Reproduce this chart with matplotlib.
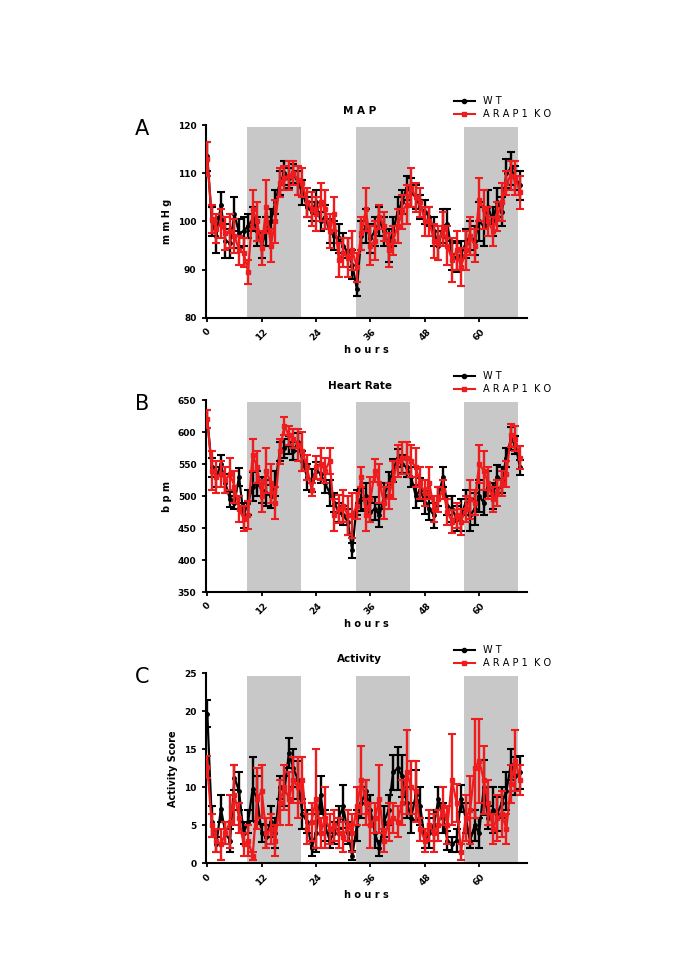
import numpy as np
import matplotlib
matplotlib.use('Agg')
import matplotlib.pyplot as plt
from matplotlib.lines import Line2D

# ------------------------------------------------------------
# data (hourly means +/- SEM)
# ------------------------------------------------------------
hours = list(range(70))

map_wt = [113.5, 100, 97, 103.5, 96, 95.5, 101.5, 97.5, 98, 99,
          100.5, 98, 95, 98, 100, 104, 108, 110, 109, 110,
          108, 106, 103, 102, 104, 100, 101, 98, 97, 96.5,
          95, 93.5, 91, 86, 97, 99, 96.5, 98, 100, 98,
          95, 98, 102, 104, 107, 106, 105, 103, 102, 101,
          98, 95, 99, 99.5, 93, 92.5, 93, 95.5, 97, 96,
          100, 99, 103, 100, 104, 102, 110, 111, 109, 107.5]
map_wt_err = [3, 3, 3.5, 2.5, 3.5, 3, 3.5, 3, 3, 2.5,
              2.5, 3, 2.5, 3, 2.5, 2.5, 2.5, 2.5, 2, 2,
              2.5, 2.5, 2, 2, 2.5, 2, 2.5, 2.5, 3, 3,
              2.5, 3, 3, 1.5, 3, 3.5, 3, 3, 3, 3,
              3.5, 3, 3, 2.5, 2.5, 3, 2.5, 2.5, 2.5, 2,
              3, 3, 3.5, 3, 3, 3, 3, 3, 3, 3,
              4, 4, 3.5, 3, 3, 3, 3, 3.5, 2.5, 3]

map_ko = [113, 100.5, 98.5, 99.5, 97.5, 98, 97, 94, 93.5, 89.5,
          102.5, 100, 94.5, 103, 95, 100, 108, 109, 109.5, 110,
          108.5, 108, 104, 102.5, 101.5, 104, 102.5, 98, 101.5, 92,
          93.5, 92.5, 94, 90.5, 97.5, 102.5, 95, 96, 101, 99,
          94, 96, 99, 102, 103.5, 107, 105, 104, 100, 100,
          96, 95.5, 98.5, 95, 92, 94, 90.5, 94, 97, 95,
          104.5, 102.5, 100, 98, 101, 104, 108, 109.5, 109, 106]
map_ko_err = [3.5, 3, 3, 3, 3.5, 3.5, 3.5, 3, 3, 2.5,
              4, 4, 3.5, 5.5, 3.5, 4.5, 3, 2.5, 3, 2.5,
              3, 3, 3, 3.5, 3.5, 4, 4, 3.5, 3.5, 3.5,
              3, 4, 4, 3, 3.5, 4.5, 4, 4, 2.5, 3,
              3.5, 3, 3.5, 3.5, 4, 4, 3, 3, 3, 3,
              3.5, 3.5, 3.5, 4, 4.5, 4, 4, 4, 4, 3.5,
              4.5, 4, 3, 3, 3, 4, 2.5, 3, 3.5, 3.5]

hr_wt = [620, 545, 530, 550, 520, 495, 490, 530, 470, 490,
         515, 520, 510, 505, 500, 520, 570, 575, 580, 570,
         585, 555, 530, 525, 540, 535, 520, 505, 490, 475,
         470, 460, 415, 490, 495, 500, 475, 480, 470, 500,
         520, 540, 560, 550, 545, 530, 500, 510, 490, 480,
         470, 500, 530, 485, 480, 465, 470, 490, 470, 480,
         500, 490, 520, 500, 530, 525, 560, 590, 580, 545]
hr_wt_err = [14, 15, 15, 14, 15, 12, 10, 14, 20, 20,
             22, 20, 20, 20, 18, 20, 15, 15, 14, 14,
             14, 15, 20, 18, 14, 14, 15, 20, 15, 15,
             15, 20, 12, 20, 18, 20, 15, 18, 18, 20,
             18, 18, 14, 14, 15, 15, 18, 18, 18, 18,
             20, 15, 15, 15, 20, 20, 25, 20, 25, 25,
             25, 20, 20, 20, 18, 20, 15, 18, 14, 12]

hr_ko = [620, 540, 530, 535, 525, 535, 515, 480, 465, 470,
         565, 545, 500, 540, 520, 490, 570, 610, 595, 590,
         580, 570, 545, 510, 545, 550, 540, 555, 470, 480,
         485, 470, 470, 485, 530, 470, 495, 540, 520, 490,
         500, 525, 555, 560, 560, 555, 545, 520, 505, 520,
         480, 495, 510, 475, 460, 470, 460, 480, 495, 490,
         550, 540, 520, 495, 505, 520, 535, 595, 590, 560]
hr_ko_err = [14, 30, 25, 20, 20, 25, 25, 20, 20, 22,
             25, 25, 25, 35, 30, 25, 20, 14, 15, 15,
             25, 30, 20, 10, 18, 25, 20, 20, 25, 22,
             25, 30, 35, 20, 15, 25, 35, 18, 30, 25,
             20, 30, 25, 25, 25, 25, 30, 25, 20, 25,
             20, 20, 15, 20, 18, 20, 20, 20, 30, 20,
             30, 30, 25, 20, 20, 20, 20, 18, 20, 18]

act_wt = [19.7, 5.5, 2.5, 7.2, 4, 3, 11.3, 9.5, 4, 5.5,
          9.8, 8.5, 4, 3.5, 5.5, 4, 10, 9.5, 14.5, 12.5,
          11, 6.5, 5.5, 2, 4, 9, 5, 3, 4, 6,
          7.5, 4, 1, 5, 8, 9.5, 7, 4, 2, 5.5,
          7, 12, 12.5, 11.5, 8, 6, 9, 7.5, 3, 4,
          5, 8.5, 6, 3, 2.5, 3, 8.5, 6, 3, 5,
          4, 10, 6, 7, 6.5, 8, 9.5, 13, 11.5, 12]
act_wt_err = [1.8, 2, 1, 1.8, 1.5, 1.5, 1.7, 2.5, 1.5, 1.5,
              4.2, 3, 1.2, 1.5, 2, 2, 1.5, 2, 2, 2.5,
              2.5, 2, 1.5, 1, 2.5, 2.5, 2, 1, 1.5, 1.5,
              2.8, 1.5, 0.6, 2, 2, 1.5, 2, 2, 1, 2,
              2, 2.3, 2.8, 2.8, 2, 2, 3.3, 2.5, 1, 2,
              2, 1.5, 2, 1.3, 1, 1.5, 1.8, 2, 1, 2,
              2, 3.6, 1.5, 3, 2.3, 2, 2.5, 2, 2.5, 2.2]

act_ko = [12.7, 5, 3, 2.5, 4, 5.5, 9, 6, 2.5, 3,
          1, 8.5, 9.5, 4, 4.5, 3, 8, 10, 8.5, 11,
          10, 11, 4.5, 5.5, 8.5, 4, 6, 4.5, 5, 4,
          3.5, 5, 4, 7.5, 11, 8, 5, 6, 8.5, 3,
          5.5, 6, 5.5, 8, 12, 10, 9.5, 4.5, 3, 5,
          4, 5, 7.5, 5, 11, 8, 1.5, 6, 7, 12.5,
          13.5, 11, 8, 4.5, 6, 6.5, 4.5, 10.5, 13.5, 11]
act_ko_err = [1.5, 1.5, 1.5, 2, 1.5, 3.5, 4, 2, 1.5, 2,
              0.5, 4, 3.5, 2, 2, 2, 3, 3, 3.5, 3,
              4, 3, 2, 2.5, 6.5, 2, 4, 2, 2, 2,
              2, 2, 2.5, 2.5, 4.5, 3, 3, 2, 4.5, 1.5,
              2.5, 2, 2, 3, 5.5, 3.5, 4, 1.5, 1.5, 2,
              2.5, 2, 2.5, 2.5, 6, 2.5, 1, 3, 4.5, 6.5,
              5.5, 4.5, 3, 2, 3, 3, 2, 2.5, 4, 2]

dark_periods = [(8.8, 20.7), (32.8, 44.7), (56.7, 68.5)]

panels = [
    dict(label='A', title='M A P', ylabel='m m H g', ylim=(80, 120),
         yticks=[80, 90, 100, 110, 120], shade_top=119.6,
         wt=map_wt, wt_err=map_wt_err, ko=map_ko, ko_err=map_ko_err,
         rect=[0.300, 0.672, 0.469, 0.199]),
    dict(label='B', title='Heart Rate', ylabel='b p m', ylim=(350, 650),
         yticks=[350, 400, 450, 500, 550, 600, 650], shade_top=647,
         wt=hr_wt, wt_err=hr_wt_err, ko=hr_ko, ko_err=hr_ko_err,
         rect=[0.300, 0.389, 0.469, 0.198]),
    dict(label='C', title='Activity', ylabel='Activity Score', ylim=(0, 25),
         yticks=[0, 5, 10, 15, 20, 25], shade_top=24.7,
         wt=act_wt, wt_err=act_wt_err, ko=act_ko, ko_err=act_ko_err,
         rect=[0.300, 0.109, 0.469, 0.196]),
]

RED = '#ee1c1c'

fig = plt.figure(figsize=(6.85, 9.69), dpi=100)
fig.patch.set_facecolor('white')

for p in panels:
    ax = fig.add_axes(p['rect'])
    ylo, yhi = p['ylim']

    # lights-off shading
    for x0, x1 in dark_periods:
        ax.fill_between([x0, x1], ylo, p['shade_top'], color='#c8c8c8',
                        lw=0, zorder=0)

    ax.errorbar(hours, p['wt'], yerr=p['wt_err'], color='black', marker='o',
                ms=2.5, lw=1.6, elinewidth=1.7, capsize=3, capthick=1.5,
                zorder=3)
    ax.errorbar(hours, p['ko'], yerr=p['ko_err'], color=RED, marker='s',
                ms=2.5, lw=1.6, elinewidth=1.7, capsize=3, capthick=1.5,
                zorder=4)

    ax.set_xlim(-0.4, 70.5)
    ax.set_ylim(ylo, yhi)
    ax.set_xticks([0, 12, 24, 36, 48, 60])
    ax.set_yticks(p['yticks'])
    ax.tick_params(direction='out', length=3, width=1.3, labelsize=6.5)
    for lab in ax.get_xticklabels():
        lab.set_rotation(45)
        lab.set_fontweight('bold')
        lab.set_ha('center')
    for lab in ax.get_yticklabels():
        lab.set_fontweight('bold')
    ax.spines['top'].set_visible(False)
    ax.spines['right'].set_visible(False)
    ax.spines['left'].set_linewidth(1.5)
    ax.spines['bottom'].set_linewidth(1.5)

    ax.set_xlabel('h o u r s', fontsize=7, fontweight='bold', labelpad=2)
    ax.set_ylabel(p['ylabel'], fontsize=7, fontweight='bold', labelpad=4)
    ax.set_title(p['title'], fontsize=7.5, fontweight='bold', pad=8, x=0.48)

    ax.text(-0.22, 0.98, p['label'], transform=ax.transAxes, fontsize=15,
            va='center', ha='left')

    handles = [Line2D([], [], color='black', marker='o', ms=3, lw=1.5),
               Line2D([], [], color=RED, marker='s', ms=3, lw=1.5)]
    ax.legend(handles, ['W T', 'A R A P 1  K O'], loc='upper left',
              bbox_to_anchor=(0.76, 1.17), frameon=False, fontsize=7,
              handlelength=2.2, handletextpad=0.8, labelspacing=0.3,
              borderaxespad=0)

fig.savefig('out.png', dpi=100, facecolor='white')
